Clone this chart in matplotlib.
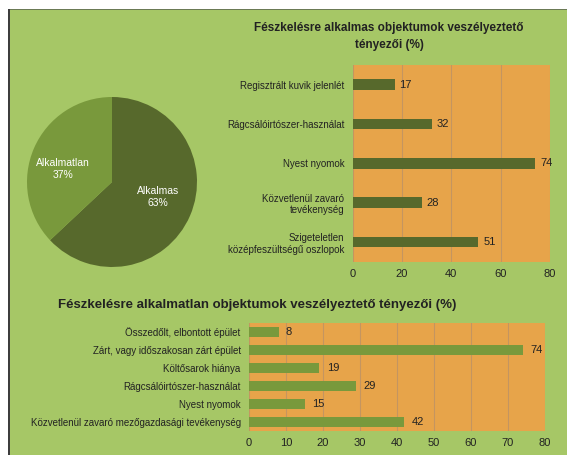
import numpy as np
import matplotlib
matplotlib.use("Agg")
import matplotlib.pyplot as plt
from matplotlib.patches import Rectangle

plt.rcParams['font.family'] = ['Liberation Sans', 'DejaVu Sans']

# pie data
pie_labels = ["Alkalmas", "Alkalmatlan"]
pie_values = [63, 37]

# suitable objects
top_title = "Fészkelésre alkalmas objektumok veszélyeztető\ntényezői (%)"
top_cats = ["Regisztrált kuvik jelenlét", "Rágcsálóirtószer-használat", "Nyest nyomok",
            "Közvetlenül zavaró\ntevékenység", "Szigeteletlen\nközépfeszültségű oszlopok"]
top_vals = [17, 32, 74, 28, 51]
top_ticks = [0, 20, 40, 60, 80]

# unsuitable objects
bot_title = "Fészkelésre alkalmatlan objektumok veszélyeztető tényezői (%)"
bot_cats = ["Összedőlt, elbontott épület", "Zárt, vagy időszakosan zárt épület", "Költősarok hiánya",
            "Rágcsálóirtószer-használat", "Nyest nyomok", "Közvetlenül zavaró mezőgazdasági tevékenység"]
bot_vals = [8, 74, 19, 29, 15, 42]
bot_ticks = [0, 10, 20, 30, 40, 50, 60, 70, 80]

green_bg = "#a6c766"
orange = "#e7a44a"
dark_green = "#57692c"
light_green = "#79993c"
grid_col = "#c49560"

W, H = 567, 455
fig = plt.figure(figsize=(W / 100, H / 100), dpi=100)
fig.patch.set_facecolor("white")

def box(l, t, r, b):
    return [l / W, 1 - b / H, (r - l) / W, (b - t) / H]

# green panel with dark left edge
fig.patches.append(Rectangle((10 / W, 0), 1 - 10 / W, 1 - 10 / H, transform=fig.transFigure,
                             facecolor=green_bg, edgecolor="none", zorder=-5))
fig.patches.append(Rectangle((10 / W, 1 - 10 / H), 1 - 10 / W, 1 / H, transform=fig.transFigure,
                             facecolor="#6b7a55", edgecolor="none", zorder=-5))
fig.patches.append(Rectangle((7.5 / W, 0), 2.5 / W, 1 - 9 / H, transform=fig.transFigure,
                             facecolor="#3d3d3d", edgecolor="none", zorder=-5))

# pie
axp = fig.add_axes(box(27, 97, 197, 267))
axp.pie(pie_values, colors=[dark_green, light_green], startangle=90, counterclock=False,
        radius=1, wedgeprops=dict(linewidth=0))
axp.set_xlim(-1, 1)
axp.set_ylim(-1, 1)
axp.set_aspect("auto")
axp.axis("off")
axp.text(0.54, -0.18, "Alkalmas\n63%", color="white", ha="center", va="center", fontsize=7.5, linespacing=1.3)
axp.text(-0.58, 0.15, "Alkalmatlan\n37%", color="white", ha="center", va="center", fontsize=7.5, linespacing=1.3)

def bar_panel(ax, cats, vals, ticks, color, height, fs):
    y = np.arange(len(cats))
    ax.set_facecolor(orange)
    ax.barh(y, vals, height=height, color=color, zorder=3)
    ax.set_ylim(len(cats) - 0.5, -0.5)
    ax.set_xlim(ticks[0], ticks[-1])
    ax.set_xticks(ticks)
    ax.set_yticks(y)
    ax.set_yticklabels(cats, fontsize=fs, color="#222222")
    ax.tick_params(axis="x", labelsize=8, colors="#222222", length=0, pad=5)
    ax.tick_params(axis="y", length=0, pad=6)
    ax.grid(axis="x", color=grid_col, linewidth=0.8, zorder=1)
    for s in ax.spines.values():
        s.set_visible(False)
    for yi, v in zip(y, vals):
        ax.text(v + ticks[-1] * 0.025, yi, str(v), va="center", ha="left", fontsize=8, color="#222222", zorder=4)

axt = fig.add_axes(box(352.7, 65, 550, 261.7))
bar_panel(axt, top_cats, top_vals, top_ticks, dark_green, 0.27, 7)
fig.text(389 / W, 1 - 36.5 / H, top_title, ha="center", va="center", fontsize=8.5, fontweight="bold",
         color="#222222", linespacing=1.5)

axb = fig.add_axes(box(249, 323, 545, 431))
bar_panel(axb, bot_cats, bot_vals, bot_ticks, light_green, 0.53, 7)
fig.text(257 / W, 1 - 305 / H, bot_title, ha="center", va="center", fontsize=9.5, fontweight="bold",
         color="#222222")

fig.savefig("out.png", dpi=100, facecolor=fig.get_facecolor())
